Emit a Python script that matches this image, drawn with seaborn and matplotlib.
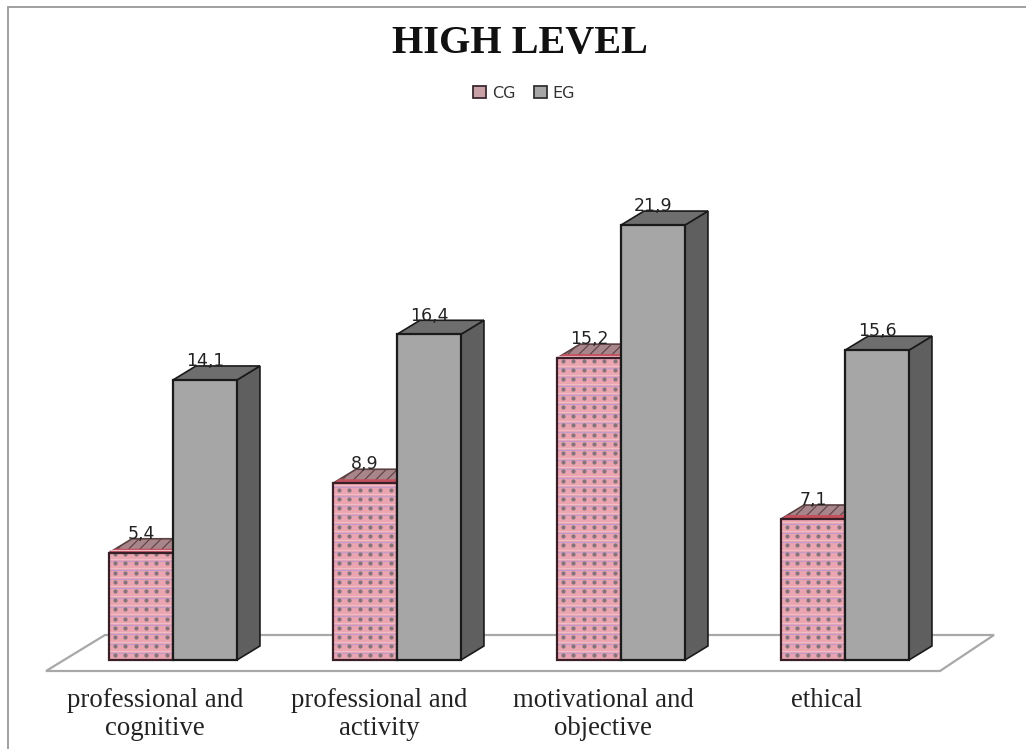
import matplotlib
matplotlib.use("Agg")
import matplotlib.pyplot as plt
import numpy as np
import pandas as pd
import seaborn as sns
from matplotlib.lines import Line2D
from matplotlib.patches import Polygon, Rectangle
from matplotlib.transforms import ScaledTranslation

categories = ["professional and\ncognitive", "professional and\nactivity",
              "motivational and\nobjective", "ethical"]
cg_values = [5.4, 8.9, 15.2, 7.1]
eg_values = [14.1, 16.4, 21.9, 15.6]
cg_labels = ["5,4", "8,9", "15,2", "7,1"]
eg_labels = ["14,1", "16,4", "21,9", "15,6"]

W, H = 1026, 749
BASE_Y = 660
PX_PER_UNIT = 19.86
PX_PER_CAT = 224
DEPTH_X, DEPTH_Y = 23, 14  # fake 3d depth in pixels

df = pd.DataFrame({
    "category": categories * 2,
    "group": ["CG"] * 4 + ["EG"] * 4,
    "value": cg_values + eg_values,
})

sns.set_theme(style="white")
plt.rcParams["font.family"] = ["Liberation Serif", "DejaVu Serif"]
plt.rcParams["hatch.linewidth"] = 0.8

fig = plt.figure(figsize=(W / 100, H / 100), dpi=100)
ax = fig.add_axes([0, (H - BASE_Y) / H, 1, BASE_Y / H])

palette = {"CG": "#EBA5B1", "EG": "#A6A6A6"}
sns.barplot(data=df, x="category", y="value", hue="group", palette=palette,
            width=0.571, gap=0, dodge=True, saturation=1, ax=ax, legend=False)

ax.set_xlim((0 - 173) / PX_PER_CAT, (W - 173) / PX_PER_CAT)
ax.set_ylim(0, BASE_Y / PX_PER_UNIT)
ax.set_xlabel("")
ax.set_ylabel("")
ax.set_yticks([])
sns.despine(ax=ax, left=True, bottom=True, right=True, top=True)
ax.tick_params(axis="x", length=0, pad=20, labelsize=19.3, labelcolor="#222222")

# labels sit left of the category centre in the original
shift = ScaledTranslation(-13 / 72, 0, fig.dpi_scale_trans)
for lab in ax.get_xticklabels():
    lab.set_transform(lab.get_transform() + shift)
    lab.set_linespacing(1.15)


def px_to_axes(x, y):
    # picture pixels to axes coordinates, used for decoration only
    return x / W, (BASE_Y - y) / BASE_Y


floor = Polygon([px_to_axes(46, 671), px_to_axes(940, 671),
                 px_to_axes(994, 635), px_to_axes(105, 635)],
                closed=True, transform=ax.transAxes, facecolor="white",
                edgecolor="#A8A8A8", linewidth=1.6, zorder=0.5, clip_on=False)
ax.add_patch(floor)

n = len(categories)
cg_bars = ax.patches[:n]
eg_bars = ax.patches[n:2 * n]
to_px = ax.transData
from_px = ax.transData.inverted()


def box(bar, top, side, textured=False, z=2):
    (x0, y0), (x1, y1) = to_px.transform([(bar.get_x(), 0),
                                          (bar.get_x() + bar.get_width(), bar.get_height())])
    dx, dy = DEPTH_X, DEPTH_Y

    def pts(p):
        return from_px.transform(p)

    ax.add_patch(Polygon(pts([(x1, y0), (x1 + dx, y0 + dy), (x1 + dx, y1 + dy), (x1, y1)]),
                         closed=True, facecolor=side, edgecolor="#1A1A1A", linewidth=1.2,
                         zorder=z, clip_on=False))
    top_face = Polygon(pts([(x0, y1), (x1, y1), (x1 + dx, y1 + dy), (x0 + dx, y1 + dy)]),
                       closed=True, facecolor=top, edgecolor="#1A1A1A", linewidth=1.2,
                       zorder=z, clip_on=False)
    ax.add_patch(top_face)
    bar.set_zorder(z + 0.1)
    bar.set_linewidth(0)
    if textured:
        top_face.set_hatch("///")
        top_face.set_edgecolor("#5A4040")
        # red strip along the front of the top face
        ax.add_patch(Polygon(pts([(x0, y1), (x1, y1), (x1 + 6, y1 + 4), (x0 + 6, y1 + 4)]),
                             closed=True, facecolor="#C4505E", edgecolor="none",
                             zorder=z + 0.05, clip_on=False))
        # woven pattern: pale lines and rows of dark dots
        h = bar.get_height()
        rows = np.arange(4.6, h * PX_PER_UNIT, 9.2) / PX_PER_UNIT
        cols = bar.get_x() + np.arange(6, 62, 10.3) / PX_PER_CAT
        ax.hlines(rows + 4.6 / PX_PER_UNIT, bar.get_x(), bar.get_x() + bar.get_width(),
                  color="#F1BDC5", linewidth=0.8, zorder=z + 0.12)
        ax.hlines(rows + 2.6 / PX_PER_UNIT, bar.get_x(), bar.get_x() + bar.get_width(),
                  color="#C39AC8", linewidth=0.9, zorder=z + 0.12)
        xx, yy = np.meshgrid(cols, rows)
        ax.scatter(xx.ravel(), yy.ravel(), s=9, marker="o", color="#85747A",
                   linewidths=0, zorder=z + 0.14, clip_on=False)
    outline = Rectangle((bar.get_x(), 0), bar.get_width(), bar.get_height(), fill=False,
                        edgecolor="#1A1A1A" if not textured else "#3A1F28", linewidth=1.6,
                        zorder=z + 0.2, clip_on=False)
    ax.add_patch(outline)


for bar in cg_bars:
    box(bar, "#A8858A", "#8A6A6A", textured=True, z=2)
for bar in eg_bars:
    box(bar, "#6E6E6E", "#5F5F5F", z=3)

for bars, labels in [(cg_bars, cg_labels), (eg_bars, eg_labels)]:
    for bar, lab in zip(bars, labels):
        ax.annotate(lab, (bar.get_x() + bar.get_width() / 2, bar.get_height()),
                    xytext=(0, 13.5), textcoords="offset points", ha="center", va="center",
                    fontsize=12.5, family=["DejaVu Sans"], color="#222222", zorder=6)

fig.text(520 / W, 1 - 44 / H, "HIGH LEVEL", ha="center", va="center",
         fontsize=29, fontweight="bold", color="#111111")

handles = [Rectangle((0, 0), 1, 1, facecolor="#C9A0A6", edgecolor="#3A2A30", linewidth=1.3),
           Rectangle((0, 0), 1, 1, facecolor="#A6A6A6", edgecolor="#333333", linewidth=1.3)]
fig.legend(handles, ["CG", "EG"], loc="center", bbox_to_anchor=(524 / W, 1 - 93 / H), ncol=2,
           frameon=False, handlelength=0.85, handleheight=0.85, handletextpad=0.35,
           columnspacing=1.15, prop={"family": "DejaVu Sans", "size": 11.5}, labelcolor="#333333")

# only the top and left edges of the frame are left in the picture
fig.add_artist(Line2D([8 / W, 8 / W], [0, 1 - 7 / H], color="#A0A0A0", linewidth=1.4,
                      transform=fig.transFigure))
fig.add_artist(Line2D([8 / W, 1], [1 - 7 / H, 1 - 7 / H], color="#A0A0A0", linewidth=1.4,
                      transform=fig.transFigure))

fig.savefig("out.png", dpi=100, facecolor="white")
